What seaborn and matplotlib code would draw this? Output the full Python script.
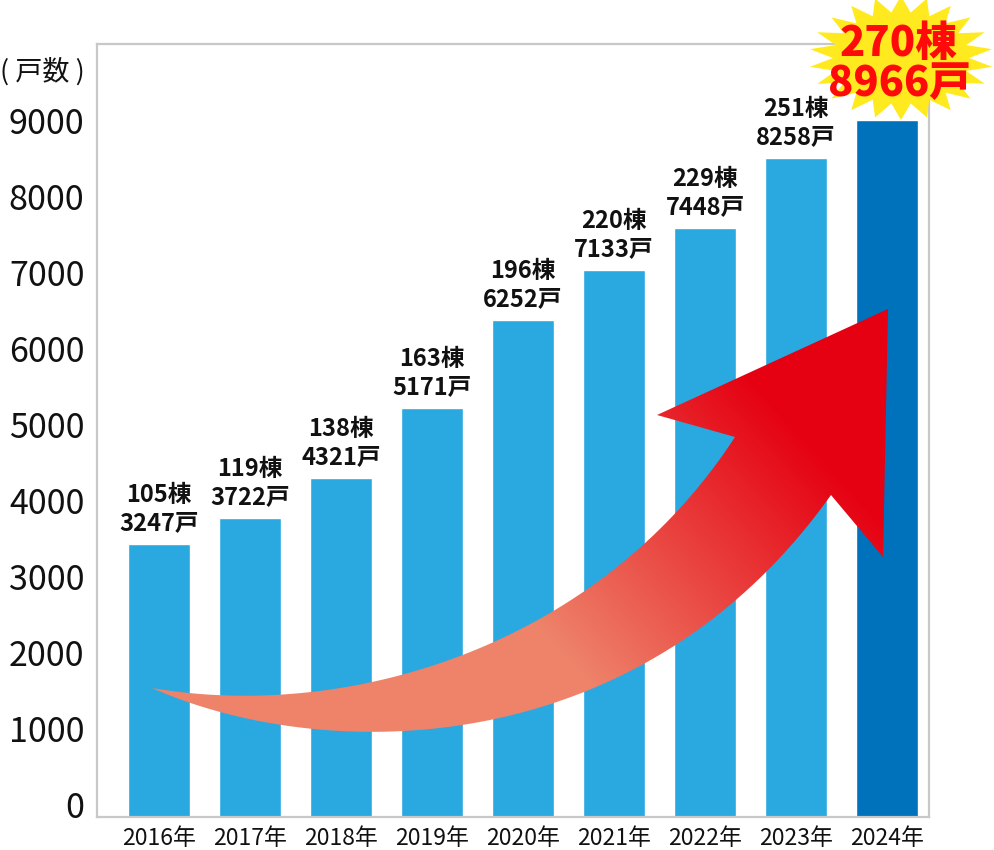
import numpy as np
import pandas as pd
import matplotlib
matplotlib.use('Agg')
import matplotlib.pyplot as plt
import matplotlib.transforms as mtransforms
from matplotlib.patches import Polygon
import seaborn as sns

years = ['2016年', '2017年', '2018年', '2019年', '2020年', '2021年', '2022年', '2023年', '2024年']
buildings = [105, 119, 138, 163, 196, 220, 229, 251, 270]
units = [3247, 3722, 4321, 5171, 6252, 7133, 7448, 8258, 8966]
# bar heights as drawn in the original (they are not exactly to scale with the labels)
bar_height = [3590, 3930, 4460, 5380, 6540, 7200, 7750, 8670, 9170]
yticks = list(range(0, 10000, 1000))

df = pd.DataFrame({'year': years, 'height': bar_height})

sns.set_theme(style='white')
plt.rcParams['font.family'] = ['Noto Sans CJK JP', 'DejaVu Sans']


def bezier(p0, p1, p2, p3, n=80):
    s = np.linspace(0, 1, n)[:, None]
    p0, p1, p2, p3 = (np.asarray(p, float) for p in (p0, p1, p2, p3))
    return ((1 - s) ** 3 * p0 + 3 * (1 - s) ** 2 * s * p1
            + 3 * (1 - s) * s ** 2 * p2 + s ** 3 * p3)


W, H = 995, 850
fig = plt.figure(figsize=(W / 100, H / 100), dpi=100)
fig.patch.set_facecolor('white')
ax = fig.add_axes([97 / W, 1 - 817 / H, (929 - 97) / W, (817 - 44) / H])

pal = ['#29a9e0'] * 8 + ['#0071bb']
sns.barplot(data=df, x='year', y='height', hue='year', palette=pal, legend=False,
            width=0.68, saturation=1, ax=ax)

ax.set_xlim(-0.68, 8.46)
ax.set_ylim(0, 10170)
ax.set_yticks(yticks)
ax.set_yticklabels([str(v) for v in yticks], fontsize=24.5, color='#111111')
ax.tick_params(axis='y', length=0, pad=9)
ax.tick_params(axis='x', length=0, pad=7, labelsize=16.5, colors='#111111')
ax.set_xlabel('')
ax.set_ylabel('')
# y labels sit a little above their ticks in the original
shift = mtransforms.ScaledTranslation(0, 12 / 100, fig.dpi_scale_trans)
for lab in ax.get_yticklabels():
    lab.set_transform(lab.get_transform() + shift)
for s in ax.spines.values():
    s.set_visible(True)
    s.set_color('#c8c8c8')
    s.set_linewidth(1.6)

# labels above bars (2024 goes in the star)
for i in range(len(years) - 1):
    ax.annotate(f'{buildings[i]}棟', (i, bar_height[i]), xytext=(0, 49 * 0.72),
                textcoords='offset points', ha='center', va='center',
                fontsize=17, fontweight='bold', color='#111111')
    ax.annotate(f'{units[i]}戸', (i, bar_height[i]), xytext=(0, 21 * 0.72),
                textcoords='offset points', ha='center', va='center',
                fontsize=17, fontweight='bold', color='#111111')

# overlay in pixel coordinates for the decorations
ov = fig.add_axes([0, 0, 1, 1])
ov.patch.set_alpha(0)
ov.axis('off')

fig.text(0, 1 - 72 / H, '( 戸数 )', fontsize=19.5, va='center', ha='left', color='#111111')

# big curved arrow
upper = bezier((152, 688), (350, 722), (600, 645), (735, 437))
head = [(657, 415), (888, 309), (883, 557)]
lower = bezier((831, 495), (639, 765), (323, 764), (152, 688))
arrow_pts = np.vstack([upper, head, lower])
poly = Polygon(arrow_pts, closed=True, fc='none', ec='none', transform=ov.transData)
ov.add_patch(poly)

gx, gy = np.meshgrid(np.arange(W) + 0.5, np.arange(H) + 0.5)
p0 = np.array([560, 650])
d = np.array([240, -220])
t = ((gx - p0[0]) * d[0] + (gy - p0[1]) * d[1]) / (d @ d)
t = np.clip(t, 0, 1)[..., None]
salmon = np.array([238, 131, 106]) / 255
red = np.array([229, 0, 18]) / 255
rgb = salmon * (1 - t) + red * t
im = ov.imshow(rgb, extent=(0, W, H, 0), origin='upper', aspect='auto',
               interpolation='nearest', zorder=3)
im.set_clip_path(poly)

# yellow starburst
n = 22
ang = np.linspace(0, 2 * np.pi, 2 * n, endpoint=False) - np.pi / 2
rad = np.where(np.arange(2 * n) % 2 == 0, 1.0, 0.74)
cx, cy = 901, 58
star = Polygon(np.column_stack([cx + 92 * rad * np.cos(ang), cy + 62 * rad * np.sin(ang)]),
               closed=True, fc='#ffea1f', ec='none', zorder=4)
ov.add_patch(star)
ov.text(899, 44, f'{buildings[-1]}棟', color='#ff0a0a', fontsize=30, fontweight='black',
        ha='center', va='center', zorder=5)
ov.text(899, 84, f'{units[-1]}戸', color='#ff0a0a', fontsize=30, fontweight='black',
        ha='center', va='center', zorder=5)

ov.set_xlim(0, W)
ov.set_ylim(H, 0)

fig.savefig('out.png', dpi=100)
